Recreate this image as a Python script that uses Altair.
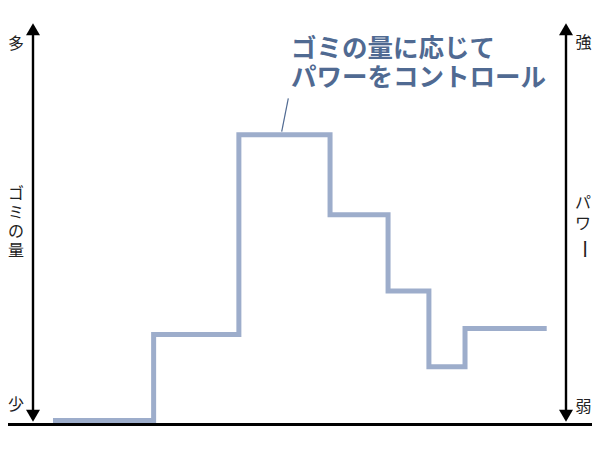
import altair as alt
import pandas as pd

# step data (time units across, amount units above baseline)
t = [7.6, 24.6, 39.0, 54.4, 64.2, 71.1, 77.2, 91.0]
amount = [1.0, 22.4, 72.2, 52.3, 33.3, 14.4, 23.9, 23.9]

left_top, left_bottom, left_title = "多", "少", "ゴミの量"
right_top, right_bottom = "強", "弱"
right_title_a, right_title_b = "パワ", "ー"
note_lines = ["ゴミの量に応じて", "パワーをコントロール"]

W, H = 584, 434
FONT = "Noto Sans CJK JP"
LINE_COLOR = "#9dadcb"
NOTE_COLOR = "#506a92"

df = pd.DataFrame({"t": t, "amount": amount})
one = pd.DataFrame({"k": [0]})

step = alt.Chart(df).mark_line(
    interpolate="step-after", strokeWidth=5, color=LINE_COLOR,
    strokeCap="butt", strokeJoin="miter"
).encode(
    x=alt.X("t:Q", scale=alt.Scale(domain=[0, 98.65], nice=False, zero=False), axis=None),
    y=alt.Y("amount:Q", scale=alt.Scale(domain=[-4.36, 103.8], nice=False, zero=False), axis=None),
)

base = alt.Chart(one)

baseline = base.mark_rule(color="black", strokeWidth=3).encode(
    x=alt.value(-8), x2=alt.value(W), y=alt.value(416.5))

def arrow(xp):
    shaft = base.mark_rule(color="black", strokeWidth=2.4).encode(
        x=alt.value(xp), y=alt.value(26), y2=alt.value(404))
    up = base.mark_point(shape="M0,-1L1,0.7L-1,0.7Z", filled=True, size=196,
                         color="black", opacity=1, strokeWidth=0).encode(
        x=alt.value(xp), y=alt.value(22.3))
    down = base.mark_point(shape="M0,1L1,-0.7L-1,-0.7Z", filled=True, size=196,
                           color="black", opacity=1, strokeWidth=0).encode(
        x=alt.value(xp), y=alt.value(406.7))
    return shaft + up + down

def label(txt, xp, yp, size=16, align="center", lh=None, angle=None, color="#222222", weight="normal"):
    kw = dict(font=FONT, fontSize=size, align=align, baseline="middle", color=color, fontWeight=weight)
    if lh is not None:
        kw["lineHeight"] = lh
    if angle is not None:
        kw["angle"] = angle
    return base.mark_text(**kw).encode(x=alt.value(xp), y=alt.value(yp), text=alt.value(txt))

layers = [
    baseline,
    arrow(25),
    arrow(558),
    step,
    label(left_top, 8, 35.5),
    label(left_bottom, 8, 397),
    label(list(left_title), 8, 185.5, lh=19),
    label(right_top, 575.5, 34.5),
    label(right_bottom, 575.5, 399),
    label(list(right_title_a), 575, 194.5, lh=21),
    label(right_title_b, 575, 241, size=20, angle=90),
    label(note_lines, 283, 41, size=25.5, align="left", lh=29, color=NOTE_COLOR, weight="bold"),
    base.mark_rule(color=NOTE_COLOR, strokeWidth=1.2).encode(
        x=alt.value(280.3), y=alt.value(90.3), x2=alt.value(273.7), y2=alt.value(123.7)),
]

chart = alt.layer(*layers).properties(
    width=W, height=H, padding=0, autosize="none"
).configure_view(strokeWidth=0)

chart.save("out.html", embed_options={"renderer": "svg", "actions": False})
